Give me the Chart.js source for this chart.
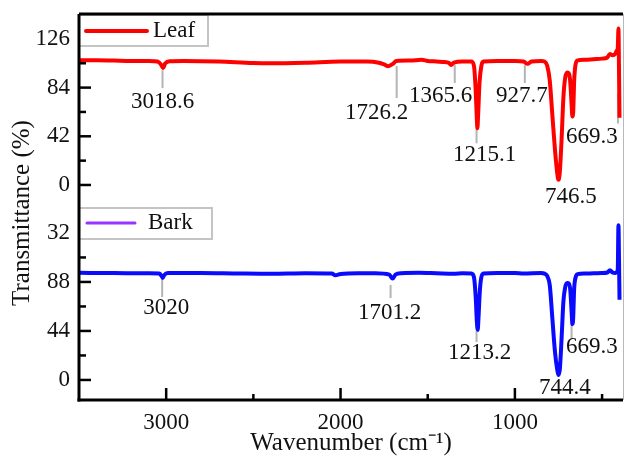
<!DOCTYPE html>
<html>
<head>
<meta charset="utf-8">
<title>FTIR spectra - leaf and bark</title>
<script src="https://cdn.jsdelivr.net/npm/chart.js@4.4.1/dist/chart.umd.min.js"></script>
<style>
  body { margin: 0; background: #fff; }
</style>
</head>
<body>
<canvas id="myChart" width="626" height="462"></canvas>
<script>
var serif = "'Liberation Serif', 'Times New Roman', serif";

// spectra (wavenumber, transmittance %)
var wnLeaf = [3500, 3400, 3300, 3200, 3100, 3050, 3030, 3018.6, 3005, 2980, 2900, 2700, 2500, 2400, 2200, 2000,
  1850, 1780, 1750, 1726.2, 1700, 1680, 1600, 1535, 1500, 1450, 1400, 1380, 1365.6, 1350, 1300, 1250, 1235,
  1225, 1218, 1215.1, 1211, 1203, 1192, 1180, 1100, 1000, 950, 927.7, 905, 850, 830, 815, 800, 785, 770, 757,
  750, 742, 732, 722, 712, 700, 690, 682, 675, 670, 666, 660, 652, 640, 600, 550, 500, 470, 455, 440, 425,
  415, 410, 406, 403, 400];
var tLeaf = [107.5, 107.6, 107.3, 107, 107, 106.5, 104, 101, 105, 106.8, 107, 106.5, 105.2, 105, 105.5, 106.5,
  106.5, 105.5, 104, 102.5, 104.5, 107, 107.3, 108, 107, 106.5, 106, 105.5, 103.5, 105.5, 106.5, 106.5, 103,
  82, 56, 49, 60, 88, 103, 106.5, 107, 107, 106.5, 104.5, 106.5, 107, 106.5, 103, 90, 60, 30, 10,
  4.5, 12, 40, 75, 92, 97, 96, 88, 70, 59, 62, 90, 104, 107.5, 108, 108.5, 109, 110, 113, 112, 113,
  116, 118, 135, 100, 58];

var wnBark = [3500, 3300, 3100, 3040, 3025, 3020, 3012, 2990, 2800, 2600, 2400, 2200, 2050, 2030, 2000, 1900,
  1800, 1720, 1701.2, 1685, 1650, 1550, 1450, 1350, 1300, 1250, 1235, 1225, 1218, 1213.2, 1209, 1201, 1192,
  1180, 1100, 1000, 950, 850, 830, 815, 800, 785, 770, 757, 750, 742, 732, 722, 712, 700, 690, 682, 675,
  670, 666, 660, 652, 640, 600, 550, 500, 470, 455, 440, 425, 415, 410, 406, 403, 400];
var tBark = [96.2, 96, 95.8, 95.5, 93, 91.6, 94, 96, 96, 95.6, 95.3, 95.8, 95.5, 94, 95.2, 95.8,
  95.8, 94.5, 91, 94.5, 95.8, 96.2, 95.8, 95.4, 95.8, 95.5, 92.5, 75, 52, 45, 55, 80, 92.5,
  95.5, 96, 96, 95.6, 96, 95.5, 93.5, 85, 55, 25, 9, 4.5, 10, 38, 70, 83, 87, 86.5, 80, 62,
  50, 55, 82, 92, 95, 95.5, 95.8, 96, 96.5, 98.5, 96.5, 96, 97, 99.5, 139, 110, 72];

// axis ticks
var xTicks = [3000, 2000, 1000];
var xMinor = [2500, 1500, 500];
var leafTicks = [0, 42, 84, 126];
var leafTickLabels = ['0', '42', '84', '126'];
var leafMinor = [21, 63, 105];
var barkTicks = [0, 44, 88, 132];
var barkTickLabels = ['0', '44', '88', '32'];
var barkMinor = [22, 66, 110, 154];

// peak marker lines: [wavenumber, from, to]  and labels: [text, wavenumber, transmittance]
var leafMarks = [[3021, 99, 83.6], [1678, 102.6, 75], [1345, 103.4, 88], [1220, 49, 36], [943, 103.4, 88], [409, 79, 53]];
var leafLabels = [['3018.6', 3021, 71.6], ['1726.2', 1793, 62], ['1365.6', 1426, 76.7], ['1215.1', 1173, 26],
  ['927.7', 960, 76.7], ['746.5', 679, -10.3], ['669.3', 558, 41]];
var barkMarks = [[3023, 91.6, 74.5], [1713, 85.3, 73.6], [1220, 44, 34], [675, 51, 37.7]];
var barkLabels = [['3020', 3000, 64.6], ['1701.2', 1718, 60.1], ['1213.2', 1202, 24.2], ['744.4', 714, -7.2],
  ['669.3', 558, 29.6]];

var legendNames = ['Leaf', 'Bark'];
var legendColors = ['#ff0000', '#9933ff'];

function pts(xs, ys) {
  return xs.map(function (w, i) { return { x: w, y: ys[i] }; });
}

var decor = {
  id: 'decor',
  beforeDatasetsDraw: function (chart) {
    var ctx = chart.ctx, x = chart.scales.x;
    ctx.save();
    ctx.strokeStyle = '#b4b4b4';
    ctx.lineWidth = 2;
    ctx.fillStyle = '#111';
    ctx.font = '23px ' + serif;
    ctx.textAlign = 'center';
    ctx.textBaseline = 'middle';
    [[leafMarks, leafLabels, 'yL'], [barkMarks, barkLabels, 'yB']].forEach(function (p) {
      var y = chart.scales[p[2]];
      p[0].forEach(function (m) {
        var px = x.getPixelForValue(m[0]);
        ctx.beginPath();
        ctx.moveTo(px, y.getPixelForValue(m[1]));
        ctx.lineTo(px, y.getPixelForValue(m[2]));
        ctx.stroke();
      });
      p[1].forEach(function (l) {
        ctx.fillText(l[0], x.getPixelForValue(l[1]), y.getPixelForValue(l[2]));
      });
    });
    ctx.restore();
  },
  afterDraw: function (chart) {
    var ctx = chart.ctx, a = chart.chartArea, x = chart.scales.x;
    var yL = chart.scales.yL, yB = chart.scales.yB;
    ctx.save();
    // inward tick marks
    ctx.strokeStyle = '#000';
    ctx.lineWidth = 2.5;
    function tick(x1, y1, x2, y2) {
      ctx.beginPath(); ctx.moveTo(x1, y1); ctx.lineTo(x2, y2); ctx.stroke();
    }
    xTicks.forEach(function (v) { var p = x.getPixelForValue(v); tick(p, a.bottom, p, a.bottom - 12); });
    xMinor.forEach(function (v) { var p = x.getPixelForValue(v); tick(p, a.bottom, p, a.bottom - 6); });
    [[yL, leafTicks, leafMinor], [yB, barkTicks, barkMinor]].forEach(function (s) {
      s[1].forEach(function (v) { var p = s[0].getPixelForValue(v); tick(a.left, p, a.left + 12, p); });
      s[2].forEach(function (v) {
        var p = s[0].getPixelForValue(v);
        if (p > s[0].top + 2) tick(a.left, p, a.left + 7, p);
      });
    });
    // legend boxes
    [[yL, 129, 17, 86, 147, 4, 153], [yB, 133, 16, 87, 135, 3, 148]].forEach(function (b, i) {
      var top = b[0].top;
      ctx.fillStyle = '#fff';
      ctx.fillRect(a.left, top + 1, b[1], 31);
      ctx.strokeStyle = '#c4c4c4';
      ctx.lineWidth = 2;
      ctx.strokeRect(a.left, top + 1, b[1], 31);
      ctx.strokeStyle = legendColors[i];
      ctx.lineWidth = b[5];
      ctx.lineCap = 'round';
      tick(b[3], top + b[2], b[4], top + b[2]);
      ctx.lineCap = 'butt';
      ctx.fillStyle = '#111';
      ctx.font = '23px ' + serif;
      ctx.textAlign = 'left';
      ctx.textBaseline = 'middle';
      ctx.fillText(legendNames[i], b[6], top + b[2]);
    });
    // frame
    ctx.strokeStyle = '#000';
    ctx.lineWidth = 3;
    tick(a.left, a.top, a.left, a.bottom + 1.5);
    tick(a.left, a.top, a.right, a.top);
    tick(a.left - 1.5, a.bottom, a.right, a.bottom);
    ctx.strokeStyle = '#b8b8b8';
    ctx.lineWidth = 1;
    tick(a.right + 0.5, a.top, a.right + 0.5, a.bottom);
    // y title
    ctx.fillStyle = '#111';
    ctx.font = '25px ' + serif;
    ctx.textAlign = 'center';
    ctx.textBaseline = 'middle';
    ctx.translate(22, (a.top + a.bottom) / 2 + 6);
    ctx.rotate(-Math.PI / 2);
    ctx.fillText('Transmittance (%)', 0, 0);
    ctx.restore();
  }
};

function yAxis(weight, min, max, values, labels) {
  return {
    type: 'linear', position: 'left', stack: 'ftir', weight: weight,
    min: min, max: max,
    grid: { display: false, drawTicks: false },
    border: { display: false },
    afterBuildTicks: function (s) { s.ticks = values.map(function (v) { return { value: v }; }); },
    afterFit: function (s) { s.width = 79; s.paddingTop = 0; s.paddingBottom = 0; },
    ticks: {
      autoSkip: false, padding: 9, color: '#111', font: { family: serif, size: 23 },
      callback: function (v, i) { return labels[i]; }
    }
  };
}

var ctx = document.getElementById('myChart').getContext('2d');
var chart = new Chart(ctx, {
  type: 'line',
  data: {
    datasets: [
      {
        label: 'Leaf', data: pts(wnLeaf, tLeaf), yAxisID: 'yL',
        borderColor: '#ff0000', borderWidth: 4, pointRadius: 0,
        cubicInterpolationMode: 'monotone', borderJoinStyle: 'round'
      },
      {
        label: 'Bark', data: pts(wnBark, tBark), yAxisID: 'yB',
        borderColor: '#0a0aff', borderWidth: 4, pointRadius: 0,
        cubicInterpolationMode: 'monotone', borderJoinStyle: 'round'
      }
    ]
  },
  options: {
    responsive: false,
    animation: false,
    layout: { padding: { top: 14, right: 3, left: 0, bottom: 0 } },
    plugins: { legend: { display: false }, tooltip: { enabled: false } },
    scales: {
      x: {
        type: 'linear', reverse: true, min: 380, max: 3500,
        grid: { display: false, drawTicks: false },
        border: { display: false },
        afterBuildTicks: function (s) { s.ticks = xTicks.map(function (v) { return { value: v }; }); },
        afterFit: function (s) { s.height = 62; s.paddingLeft = 0; s.paddingRight = 0; },
        ticks: {
          autoSkip: false, maxRotation: 0, padding: 9, color: '#111', font: { family: serif, size: 23 },
          callback: function (v) { return String(v); }
        },
        title: {
          display: true, text: 'Wavenumber (cm\u207B\u00B9)', color: '#111',
          font: { family: serif, size: 25 }, padding: { top: 0, bottom: 4 }
        }
      },
      yL: yAxis(1, -19, 147.5, leafTicks, leafTickLabels),
      yB: yAxis(0, -18, 155.3, barkTicks, barkTickLabels)
    }
  },
  plugins: [decor]
});
</script>
</body>
</html>
